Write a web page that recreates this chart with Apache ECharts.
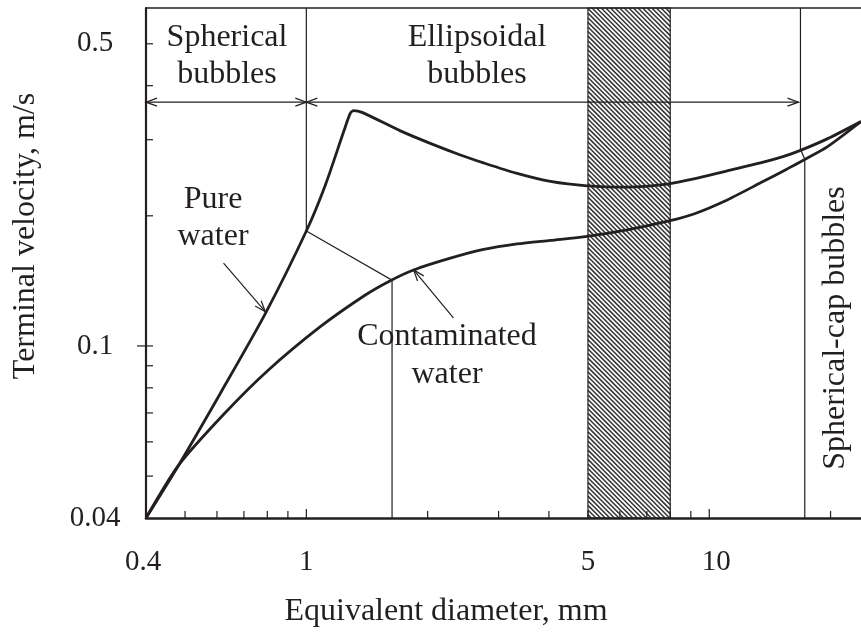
<!DOCTYPE html>
<html><head><meta charset="utf-8">
<script src="https://cdn.jsdelivr.net/npm/echarts@6/dist/echarts.min.js"></script>
<style>html,body{margin:0;padding:0;background:#fff}#c{width:861px;height:633px}</style>
</head><body><div id="c"></div>
<script>
// ---- data ----
const pureX = [0.4, 0.482, 0.617, 0.791, 1.0, 1.115, 1.238, 1.286, 1.311, 1.375, 1.712, 2.03, 2.412, 2.755, 3.334, 4.035, 4.977, 6.255, 7.94, 9.155, 11.08, 13.4, 15.31, 16.84, 19.62, 23.8];
const pureY = [0.04, 0.053, 0.0788, 0.1188, 0.1845, 0.2358, 0.3133, 0.3455, 0.3503, 0.347, 0.3144, 0.2942, 0.2766, 0.2651, 0.2507, 0.2402, 0.2346, 0.2330, 0.2371, 0.2434, 0.2541, 0.2651, 0.2745, 0.2834, 0.3013, 0.3304];
const contX = [0.4, 0.482, 0.623, 0.799, 1.083, 1.401, 1.616, 1.846, 2.278, 2.755, 3.334, 4.035, 4.977, 6.255, 7.94, 9.155, 11.08, 13.4, 15.61, 17.17, 19.62, 23.8];
const contY = [0.04, 0.053, 0.0694, 0.0874, 0.1108, 0.1312, 0.1416, 0.1499, 0.1596, 0.1672, 0.1722, 0.1755, 0.1792, 0.1855, 0.1946, 0.2020, 0.2177, 0.2384, 0.2568, 0.2694, 0.2887, 0.3304];

const xTicks = [0.5, 0.6, 0.7, 0.8, 0.9, 1, 2, 3, 4, 5, 6, 7, 8, 9, 10, 20];
const yTicks = [0.05, 0.06, 0.07, 0.08, 0.09, 0.1, 0.2, 0.3, 0.4, 0.5];
const xTickLabels = [0.4, 1, 5, 10];
const yTickLabels = [0.04, 0.1, 0.5];

const hatchRange = [5, 8];
const boundaryLeft = [[1, 0.605], [1, 0.1845]];
const connector = [[1, 0.1845], [1.632, 0.142], [1.632, 0.04]];
const boundaryRight = [[16.84, 0.605], [16.84, 0.285], [17.26, 0.2704], [17.26, 0.04]];
const rangeSpherical = [[0.4, 0.3664], [1, 0.3664]];
const rangeEllipsoidal = [[1, 0.3664], [16.65, 0.3664]];
const pureArrow = [[0.623, 0.1554], [0.791, 0.120]];
const contArrow = [[2.317, 0.1161], [1.846, 0.1499]];

const X_MIN = 0.4, X_MAX = 23.8, Y_MIN = 0.04, Y_MAX = 0.605;

// ---- styling ----
const INK = '#231f20';
const FONT = '"Liberation Serif","Times New Roman",Times,serif';

const annotations = [
  {pts: boundaryLeft, a0: false, a1: false},
  {pts: connector, a0: false, a1: false},
  {pts: boundaryRight, a0: false, a1: false},
  {pts: rangeSpherical, a0: true, a1: true},
  {pts: rangeEllipsoidal, a0: true, a1: true},
  {pts: pureArrow, a0: false, a1: true},
  {pts: contArrow, a0: false, a1: true}
];

function arrowHead(tip, prev) {
  const dx = tip[0] - prev[0], dy = tip[1] - prev[1];
  const len = Math.sqrt(dx * dx + dy * dy) || 1;
  const ux = dx / len, uy = dy / len, L = 11, W = 4;
  const bx = tip[0] - ux * L, by = tip[1] - uy * L;
  return {type: 'polyline', shape: {points: [[bx - uy * W, by + ux * W], tip, [bx + uy * W, by - ux * W]]},
    style: {stroke: INK, lineWidth: 1.2, fill: 'none'}};
}

const chart = echarts.init(document.getElementById('c'));
chart.setOption({
  animation: false,
  backgroundColor: '#fff',
  grid: {left: 146, top: 8, width: 715, height: 510},
  xAxis: [
    {type: 'log', logBase: 10, min: X_MIN, max: X_MAX, position: 'bottom',
     axisLine: {show: true, onZero: false, lineStyle: {color: INK, width: 2.6}},
     axisTick: {show: false}, axisLabel: {show: false}, splitLine: {show: false}},
    {type: 'log', logBase: 10, min: X_MIN, max: X_MAX, position: 'top',
     axisLine: {show: true, onZero: false, lineStyle: {color: INK, width: 1.5}},
     axisTick: {show: false}, axisLabel: {show: false}, splitLine: {show: false}}
  ],
  yAxis: {type: 'log', logBase: 10, min: Y_MIN, max: Y_MAX,
    axisLine: {show: true, onZero: false, lineStyle: {color: INK, width: 2.2}},
    axisTick: {show: false}, axisLabel: {show: false}, splitLine: {show: false}},
  series: [
    {type: 'custom', name: 'hatch', z: 1, data: [[hatchRange[0], Y_MIN, hatchRange[1]]],
     renderItem: function (params, api) {
       const a = api.coord([api.value(0), Y_MAX]);
       const b = api.coord([api.value(2), Y_MIN]);
       const x0 = a[0], y0 = a[1], x1 = b[0], y1 = b[1];
       const children = [];
       const step = 4.6;
       for (let c = y0 - x1; c <= y1 - x0; c += step) {
         const xs = Math.max(x0, y0 - c), xe = Math.min(x1, y1 - c);
         if (xe > xs) children.push({type: 'line', shape: {x1: xs, y1: xs + c, x2: xe, y2: xe + c},
           style: {stroke: '#333', lineWidth: 1.5}});
       }
       children.push({type: 'rect', shape: {x: x0, y: y0, width: x1 - x0, height: y1 - y0},
         style: {fill: 'none', stroke: INK, lineWidth: 1.2}});
       return {type: 'group', children: children};
     }},
    {type: 'custom', name: 'annotations', z: 2, data: annotations.map(function () { return [1, 0.1]; }),
     renderItem: function (params, api) {
       const an = annotations[params.dataIndex];
       const pts = an.pts.map(function (p) { return api.coord(p); });
       const children = [{type: 'polyline', shape: {points: pts}, style: {stroke: INK, lineWidth: 1.2, fill: 'none'}}];
       if (an.a0) children.push(arrowHead(pts[0], pts[1]));
       if (an.a1) children.push(arrowHead(pts[pts.length - 1], pts[pts.length - 2]));
       return {type: 'group', children: children};
     }},
    {type: 'line', name: 'Pure water', z: 3, data: pureX.map(function (x, i) { return [x, pureY[i]]; }),
     symbol: 'none', smooth: 0.25, lineStyle: {color: INK, width: 2.8}},
    {type: 'line', name: 'Contaminated water', z: 3, data: contX.map(function (x, i) { return [x, contY[i]]; }),
     symbol: 'none', smooth: 0.25, lineStyle: {color: INK, width: 2.8}},
    {type: 'custom', name: 'xTicks', z: 4, data: xTicks.map(function (v) { return [v, Y_MIN]; }),
     renderItem: function (params, api) {
       const p = api.coord([api.value(0), api.value(1)]);
       const v = api.value(0);
       const len = (v === 1 || v === 10) ? 9 : 7;
       return {type: 'line', shape: {x1: p[0], y1: p[1], x2: p[0], y2: p[1] - len}, style: {stroke: INK, lineWidth: 1.2}};
     }},
    {type: 'custom', name: 'yTicks', z: 4, data: yTicks.map(function (v) { return [X_MIN, v]; }),
     renderItem: function (params, api) {
       const p = api.coord([api.value(0), api.value(1)]);
       const v = api.value(1);
       const out = (v === 0.1) ? 9 : 0;
       return {type: 'line', shape: {x1: p[0] - out, y1: p[1], x2: p[0] + 7, y2: p[1]}, style: {stroke: INK, lineWidth: 1.2}};
     }},
    {type: 'custom', name: 'xLabels', z: 4, data: xTickLabels.map(function (v) { return [v, Y_MIN]; }),
     renderItem: function (params, api) {
       const v = api.value(0);
       const p = api.coord([v, api.value(1)]);
       const dx = v === 10 ? 7 : (v === 0.4 ? -3 : 0);
       return {type: 'text', x: p[0] + dx, y: p[1] + 44,
         style: {text: String(v), fill: INK, fontSize: 29, fontFamily: FONT, align: 'center', verticalAlign: 'middle'}};
     }},
    {type: 'custom', name: 'yLabels', z: 4, data: yTickLabels.map(function (v) { return [X_MIN, v]; }),
     renderItem: function (params, api) {
       const v = api.value(1);
       const p = api.coord([api.value(0), v]);
       return {type: 'text', x: p[0] - 51, y: p[1],
         style: {text: String(v), fill: INK, fontSize: 29, fontFamily: FONT, align: 'center', verticalAlign: 'middle'}};
     }}
  ],
  graphic: [
    {type: 'text', x: 227, y: 38, style: {text: 'Spherical', fill: INK, fontSize: 32, fontFamily: FONT, align: 'center', verticalAlign: 'middle'}},
    {type: 'text', x: 227, y: 75, style: {text: 'bubbles', fill: INK, fontSize: 32, fontFamily: FONT, align: 'center', verticalAlign: 'middle'}},
    {type: 'text', x: 477, y: 38, style: {text: 'Ellipsoidal', fill: INK, fontSize: 32, fontFamily: FONT, align: 'center', verticalAlign: 'middle'}},
    {type: 'text', x: 477, y: 75, style: {text: 'bubbles', fill: INK, fontSize: 32, fontFamily: FONT, align: 'center', verticalAlign: 'middle'}},
    {type: 'text', x: 213, y: 200, style: {text: 'Pure', fill: INK, fontSize: 32, fontFamily: FONT, align: 'center', verticalAlign: 'middle'}},
    {type: 'text', x: 213, y: 237, style: {text: 'water', fill: INK, fontSize: 32, fontFamily: FONT, align: 'center', verticalAlign: 'middle'}},
    {type: 'text', x: 447, y: 337, style: {text: 'Contaminated', fill: INK, fontSize: 32, fontFamily: FONT, align: 'center', verticalAlign: 'middle'}},
    {type: 'text', x: 447, y: 375, style: {text: 'water', fill: INK, fontSize: 32, fontFamily: FONT, align: 'center', verticalAlign: 'middle'}},
    {type: 'text', x: 836, y: 328, rotation: Math.PI / 2, style: {text: 'Spherical-cap bubbles', fill: INK, fontSize: 32, fontFamily: FONT, align: 'center', verticalAlign: 'middle'}},
    {type: 'text', x: 446, y: 612, style: {text: 'Equivalent diameter, mm', fill: INK, fontSize: 32, fontFamily: FONT, align: 'center', verticalAlign: 'middle'}},
    {type: 'text', x: 26, y: 236, rotation: Math.PI / 2, style: {text: 'Terminal velocity, m/s', fill: INK, fontSize: 32, fontFamily: FONT, align: 'center', verticalAlign: 'middle'}}
  ]
});
</script></body></html>
